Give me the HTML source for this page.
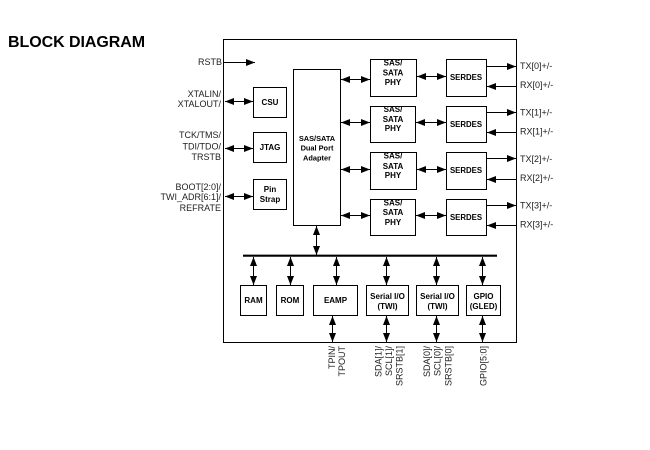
<!DOCTYPE html>
<html><head><meta charset="utf-8"><style>
html,body{margin:0;padding:0;background:#fff}
svg{display:block}
text{font-family:"Liberation Sans",sans-serif;font-size:9px;fill:#222}
.b{font-weight:bold;font-size:8px;fill:#000;text-anchor:middle}
.r{text-anchor:end}
rect{fill:#fff;stroke:#000;stroke-width:1}
line{stroke:#000;stroke-width:1;marker-end:url(#a)}
line.d{marker-start:url(#s)}
</style></head><body>
<svg width="650" height="450" viewBox="0 0 650 450" xmlns="http://www.w3.org/2000/svg">
<defs>
<marker id="a" markerUnits="userSpaceOnUse" markerWidth="10" markerHeight="7" refX="9" refY="3.5" orient="auto"><path d="M0 0L9 3.5L0 7z" fill="#000"/></marker>
<marker id="s" markerUnits="userSpaceOnUse" markerWidth="10" markerHeight="7" refX="0" refY="3.5" orient="auto"><path d="M9 0L0 3.5L9 7z" fill="#000"/></marker>
</defs>
<text x="8" y="47" style="font-size:16px;font-weight:bold;fill:#000;letter-spacing:-.06px">BLOCK DIAGRAM</text>
<rect x="223.5" y="39.5" width="293" height="303"/>
<rect x="293.5" y="69.5" width="47" height="156"/>
<rect x="253.5" y="87.5" width="33" height="30"/>
<rect x="253.5" y="132.5" width="33" height="30"/>
<rect x="253.5" y="179.5" width="33" height="30"/>
<rect x="370.5" y="59.5" width="46" height="37"/>
<rect x="370.5" y="106.5" width="45" height="36"/>
<rect x="370.5" y="152.5" width="46" height="37"/>
<rect x="370.5" y="199.5" width="45" height="36"/>
<rect x="446.5" y="59.5" width="40" height="37"/>
<rect x="446.5" y="106.5" width="40" height="36"/>
<rect x="446.5" y="152.5" width="40" height="37"/>
<rect x="446.5" y="199.5" width="40" height="36"/>
<rect x="240.5" y="285.5" width="26" height="30"/>
<rect x="276.5" y="285.5" width="27" height="30"/>
<rect x="313.5" y="285.5" width="44" height="30"/>
<rect x="366.5" y="285.5" width="42" height="30"/>
<rect x="416.5" y="285.5" width="42" height="30"/>
<rect x="466.5" y="285.5" width="34" height="30"/>
<path d="M243 255.7H497" stroke="#000" stroke-width="2.2" fill="none"/>

<line x1="224" y1="62.5" x2="255" y2="62.5"/>
<line class="d" x1="225" y1="101.5" x2="253" y2="101.5"/>
<line class="d" x1="225" y1="148.5" x2="253" y2="148.5"/>
<line class="d" x1="225" y1="196.5" x2="253" y2="196.5"/>
<line class="d" x1="341" y1="79.5" x2="370" y2="79.5"/>
<line class="d" x1="341" y1="122.5" x2="370" y2="122.5"/>
<line class="d" x1="341" y1="169.5" x2="370" y2="169.5"/>
<line class="d" x1="341" y1="215.5" x2="370" y2="215.5"/>
<line class="d" x1="417" y1="76.5" x2="446" y2="76.5"/>
<line class="d" x1="416" y1="122.5" x2="446" y2="122.5"/>
<line class="d" x1="417" y1="169.5" x2="446" y2="169.5"/>
<line class="d" x1="416" y1="215.5" x2="446" y2="215.5"/>
<line x1="487" y1="66.5" x2="516" y2="66.5"/>
<line x1="516" y1="86.5" x2="487" y2="86.5"/>
<line x1="487" y1="112.5" x2="516" y2="112.5"/>
<line x1="516" y1="132.5" x2="487" y2="132.5"/>
<line x1="487" y1="158.5" x2="516" y2="158.5"/>
<line x1="516" y1="179.5" x2="487" y2="179.5"/>
<line x1="487" y1="205.5" x2="516" y2="205.5"/>
<line x1="516" y1="225.5" x2="487" y2="225.5"/>
<line class="d" x1="316.5" y1="226" x2="316.5" y2="255"/>
<line class="d" x1="253.5" y1="257" x2="253.5" y2="285"/>
<line class="d" x1="290.5" y1="257" x2="290.5" y2="285"/>
<line class="d" x1="336.5" y1="257" x2="336.5" y2="285"/>
<line class="d" x1="386.5" y1="257" x2="386.5" y2="285"/>
<line class="d" x1="436.5" y1="257" x2="436.5" y2="285"/>
<line class="d" x1="482.5" y1="257" x2="482.5" y2="285"/>
<line class="d" x1="332.5" y1="316" x2="332.5" y2="342"/>
<line class="d" x1="386.5" y1="316" x2="386.5" y2="342"/>
<line class="d" x1="436.5" y1="316" x2="436.5" y2="342"/>
<line class="d" x1="482.5" y1="316" x2="482.5" y2="342"/>

<text class="r" x="222" y="65">RSTB</text>
<text class="r" x="221" y="97">XTALIN/</text>
<text class="r" x="221" y="107">XTALOUT/</text>
<text class="r" x="221" y="138">TCK/TMS/</text>
<text class="r" x="221" y="149.500">TDI/TDO/</text>
<text class="r" x="221" y="160">TRSTB</text>
<text class="r" x="221" y="190">BOOT[2:0]/</text>
<text class="r" x="221" y="200">TWI_ADR[6:1]/</text>
<text class="r" x="221" y="211">REFRATE</text>

<text x="520" y="69">TX[0]+/-</text>
<text x="520" y="88">RX[0]+/-</text>
<text x="520" y="115.500">TX[1]+/-</text>
<text x="520" y="134.500">RX[1]+/-</text>
<text x="520" y="162">TX[2]+/-</text>
<text x="520" y="181">RX[2]+/-</text>
<text x="520" y="208.500">TX[3]+/-</text>
<text x="520" y="227.500">RX[3]+/-</text>

<text class="b" x="270" y="105">CSU</text>
<text class="b" x="270" y="150">JTAG</text>
<text class="b" x="270" y="192">Pin</text>
<text class="b" x="270" y="202">Strap</text>
<text class="b" x="317" y="141" style="font-size:7.4px">SAS/SATA</text>
<text class="b" x="317" y="150.500" style="font-size:7.4px">Dual Port</text>
<text class="b" x="317" y="160.500" style="font-size:7.4px">Adapter</text>

<text class="b" x="393" y="65.500">SAS/</text>
<text class="b" x="393" y="75.500">SATA</text>
<text class="b" x="393" y="85">PHY</text>
<text class="b" x="393" y="112">SAS/</text>
<text class="b" x="393" y="122">SATA</text>
<text class="b" x="393" y="131">PHY</text>
<text class="b" x="393" y="158.500">SAS/</text>
<text class="b" x="393" y="169">SATA</text>
<text class="b" x="393" y="178">PHY</text>
<text class="b" x="393" y="205.500">SAS/</text>
<text class="b" x="393" y="215">SATA</text>
<text class="b" x="393" y="225">PHY</text>
<text class="b" x="466" y="80" style="font-size:7.8px">SERDES</text>
<text class="b" x="466" y="127" style="font-size:7.8px">SERDES</text>
<text class="b" x="466" y="173" style="font-size:7.8px">SERDES</text>
<text class="b" x="466" y="220" style="font-size:7.8px">SERDES</text>

<text class="b" x="253.500" y="303">RAM</text>
<text class="b" x="290" y="303">ROM</text>
<text class="b" x="335.500" y="303">EAMP</text>
<text class="b" x="387.500" y="299">Serial I/O</text>
<text class="b" x="387.500" y="309">(TWI)</text>
<text class="b" x="437.500" y="299">Serial I/O</text>
<text class="b" x="437.500" y="309">(TWI)</text>
<text class="b" x="483.500" y="299">GPIO</text>
<text class="b" x="483.500" y="309">(GLED)</text>

<text class="r" transform="translate(335 346) rotate(-90)">TPIN/</text>
<text class="r" transform="translate(345 346) rotate(-90)">TPOUT</text>
<text class="r" transform="translate(381.500 346) rotate(-90)">SDA[1]/</text>
<text class="r" transform="translate(392 346) rotate(-90)">SCL[1]/</text>
<text class="r" transform="translate(402.500 346) rotate(-90)">SRSTB[1]</text>
<text class="r" transform="translate(430 346) rotate(-90)">SDA[0]/</text>
<text class="r" transform="translate(440.500 346) rotate(-90)">SCL[0]/</text>
<text class="r" transform="translate(451.500 346) rotate(-90)">SRSTB[0]</text>
<text class="r" transform="translate(486.500 346) rotate(-90)">GPIO[5:0]</text>
</svg>
</body></html>
